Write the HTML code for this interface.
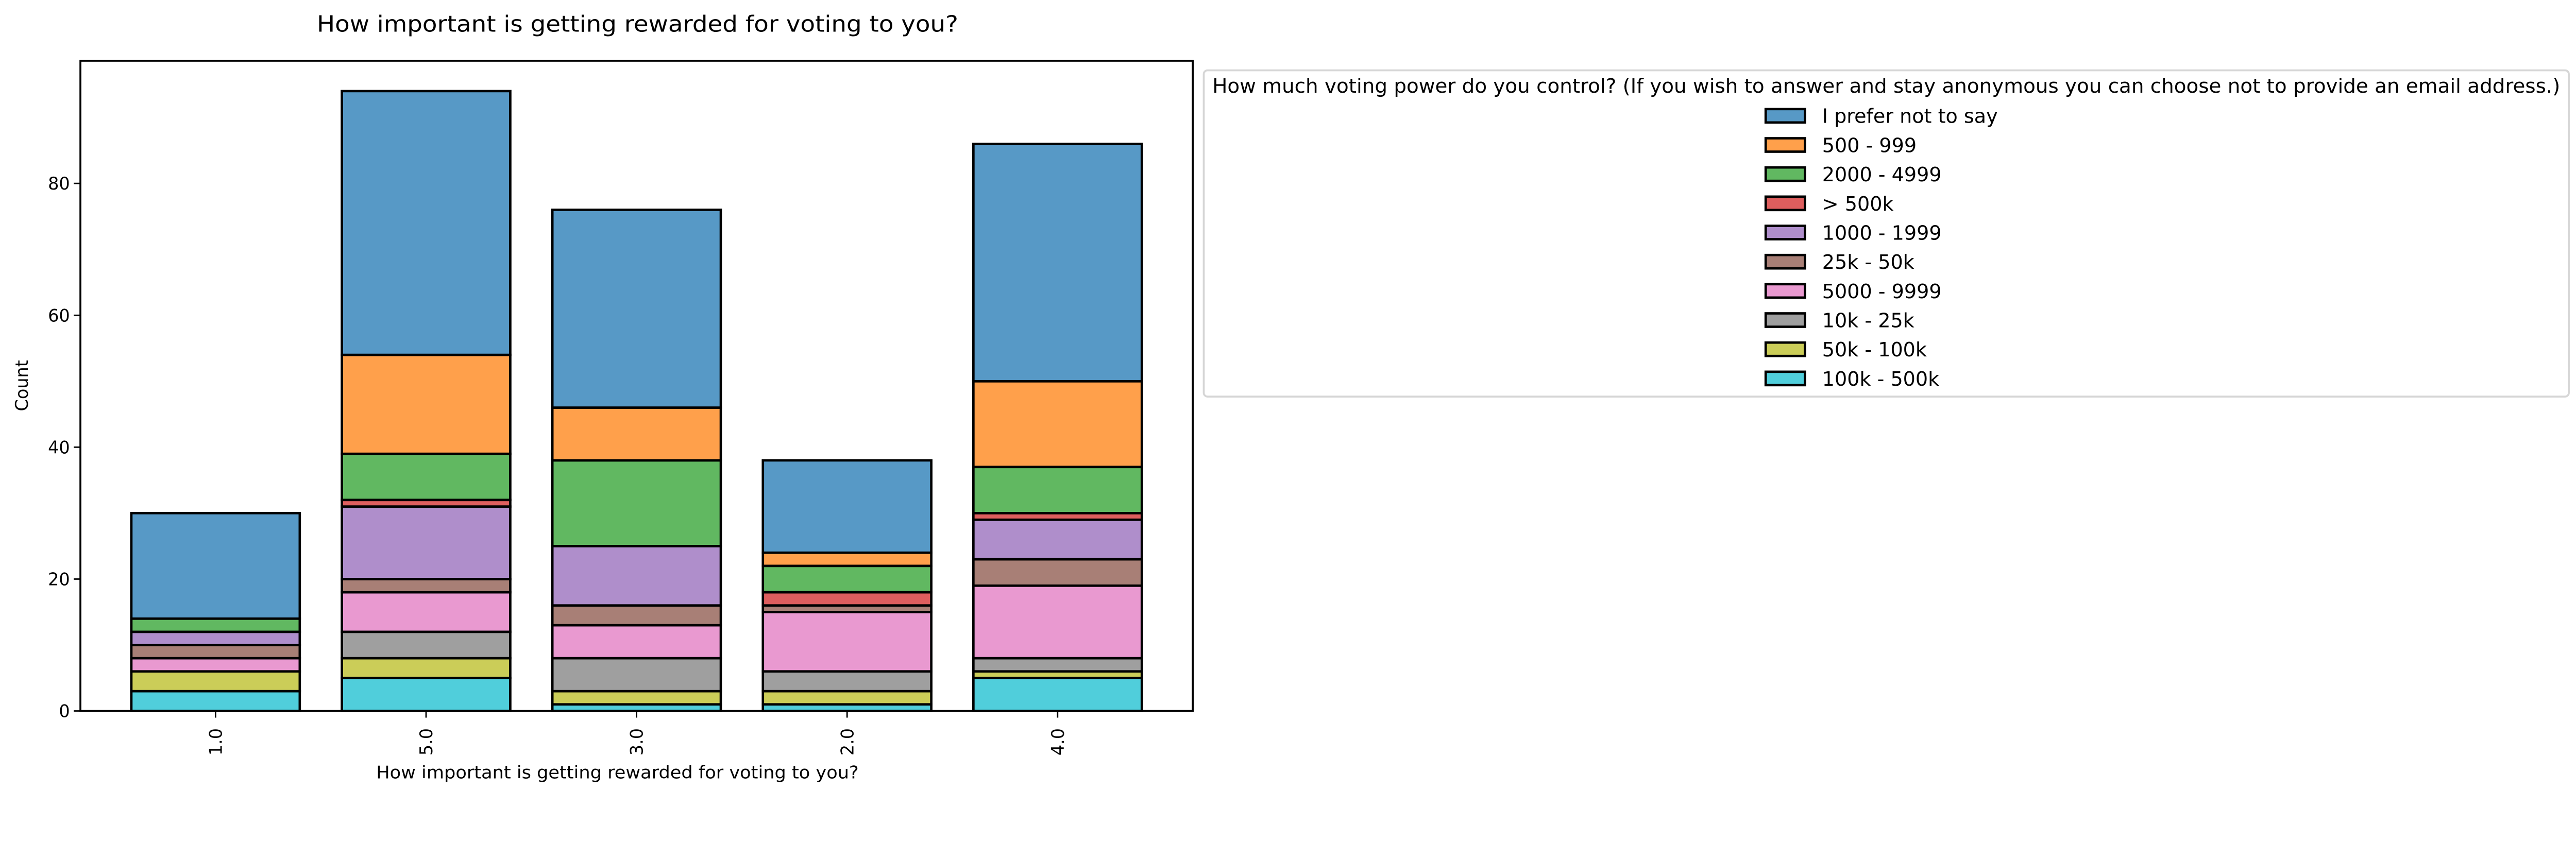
<!DOCTYPE html>
<html><head><meta charset="utf-8"><style>
html,body{margin:0;padding:0;background:#fff;overflow:hidden;}
svg{display:block;width:100vw;height:calc(100vw * 1668 / 5382);font-family:"DejaVu Sans","Liberation Sans",sans-serif;}
</style></head><body>
<svg id="chart" viewBox="0 0 5382 1668" preserveAspectRatio="none" xmlns="http://www.w3.org/2000/svg">
<text x="1332" y="66" font-size="47" text-anchor="middle" textLength="1340" lengthAdjust="spacingAndGlyphs">How important is getting rewarded for voting to you?</text>
<g id="bars"></g>
<g id="axes"></g>
<text x="1290" y="1627" font-size="36" text-anchor="middle" textLength="1008" lengthAdjust="spacingAndGlyphs">How important is getting rewarded for voting to you?</text>
<text transform="translate(58,806) rotate(-90)" font-size="36" text-anchor="middle">Count</text>
<g id="legend">
<rect x="2515" y="147" width="2852" height="682" rx="8" fill="#fff" stroke="#d6d6d6" stroke-width="4"/>
<text x="3941" y="194" font-size="41" text-anchor="middle" textLength="2816" lengthAdjust="spacingAndGlyphs">How much voting power do you control? (If you wish to answer and stay anonymous you can choose not to provide an email address.)</text>
</g>
</svg>
<script>
const categories = ["1.0","5.0","3.0","2.0","4.0"];
const seriesNames = ["100k - 500k","50k - 100k","10k - 25k","5000 - 9999","25k - 50k","1000 - 1999","> 500k","2000 - 4999","500 - 999","I prefer not to say"];
const s100k500k = [3,5,1,1,5];
const s50k100k = [3,3,2,2,1];
const s10k25k = [0,4,5,3,2];
const s5000 = [2,6,5,9,11];
const s25k50k = [2,2,3,1,4];
const s1000 = [2,11,9,0,6];
const sOver500k = [0,1,0,2,1];
const s2000 = [2,7,13,4,7];
const s500 = [0,15,8,2,13];
const sPrefer = [16,40,30,14,36];
const yTicks = [0,20,40,60,80];
const legendOrder = ["I prefer not to say","500 - 999","2000 - 4999","> 500k","1000 - 1999","25k - 50k","5000 - 9999","10k - 25k","50k - 100k","100k - 500k"];

const seriesValues = [s100k500k,s50k100k,s10k25k,s5000,s25k50k,s1000,sOver500k,s2000,s500,sPrefer];
const colors = {"I prefer not to say":"#5799c6","500 - 999":"#ffa04b","2000 - 4999":"#61b861","> 500k":"#de5e5e","1000 - 1999":"#af8ecb","25k - 50k":"#a87f76","5000 - 9999":"#e999d0","10k - 25k":"#9f9f9f","50k - 100k":"#cbcd58","100k - 500k":"#50cedb"};
const NS="http://www.w3.org/2000/svg";
const L=168,R=2492,T=127,B=1486;
const yMax=98.6;
function y(v){return B-(v/yMax)*(B-T);}
const band=(R-L)/(categories.length-1+1.284);
function xc(i){return L+band*0.642+i*band;}
const bw=band*0.8;
function mk(tag,attrs,parent){const e=document.createElementNS(NS,tag);for(const k in attrs)e.setAttribute(k,attrs[k]);parent.appendChild(e);return e;}
const bars=document.getElementById('bars');
categories.forEach((c,i)=>{
  let cum=0;
  seriesValues.forEach((arr,si)=>{
    const v=arr[i];
    if(v>0){
      const r=mk('rect',{x:xc(i)-bw/2,y:y(cum+v),width:bw,height:y(cum)-y(cum+v),fill:colors[seriesNames[si]],stroke:'#000','stroke-width':5},bars);
      
      
    }
    cum+=v;
  });
});
const axes=document.getElementById('axes');
const frame=mk('rect',{x:L,y:T,width:R-L,height:B-T,fill:'none',stroke:'#000','stroke-width':4},axes);


yTicks.forEach(t=>{
  const ln=mk('line',{x1:L-14,x2:L,y1:y(t),y2:y(t),stroke:'#000','stroke-width':3},axes);
  
  
  const tx=mk('text',{x:L-22,y:y(t)+13,'font-size':36,'text-anchor':'end'},axes);
  tx.textContent=t;
  
  
});
categories.forEach((c,i)=>{
  const ln=mk('line',{x1:xc(i),x2:xc(i),y1:B,y2:B+14,stroke:'#000','stroke-width':3},axes);
  
  
  const tx=mk('text',{transform:`translate(${xc(i)+13},1522) rotate(-90)`,'font-size':36,'text-anchor':'end'},axes);
  tx.textContent=c;
  
  
});
const leg=document.getElementById('legend');
legendOrder.forEach((n,k)=>{
  const cy=242+k*61;
  const r=mk('rect',{x:3689,y:cy-14,width:82,height:28,fill:colors[n],stroke:'#000','stroke-width':5},leg);
  
  
  const tx=mk('text',{x:3807,y:cy+15,'font-size':41},leg);
  tx.textContent=n;
  
  
});
</script>
</body></html>
